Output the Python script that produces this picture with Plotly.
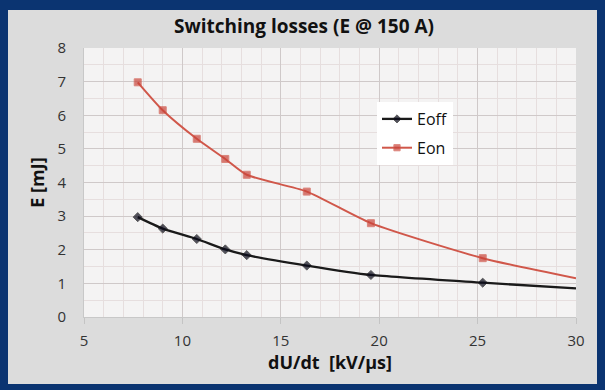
import plotly.graph_objects as go

# Data
x_off = [7.73, 9.0, 10.73, 12.18, 13.27, 16.32, 19.58, 25.26, 30.0]
e_off = [2.97, 2.63, 2.32, 2.01, 1.84, 1.53, 1.25, 1.02, 0.85]
x_on = [7.73, 9.0, 10.73, 12.18, 13.27, 16.32, 19.58, 25.26, 30.0]
e_on = [6.98, 6.15, 5.3, 4.7, 4.23, 3.73, 2.79, 1.75, 1.15]
marker_shown = [True, True, True, True, True, True, True, True, False]

title = "<b>Switching losses (E @ 150 A)</b>"
x_title = "<b>dU/dt  [kV/µs]</b>"
y_title = "<b>E [mJ]</b>"

FONT = "Open Sans"

def msize(flags, s):
    return [s if f else 0 for f in flags]

fig = go.Figure()
fig.add_trace(go.Scatter(
    x=x_off, y=e_off, name="Eoff", mode="lines+markers", legendgroup="a",
    line=dict(color="#1a1a1a", width=2.3, shape="spline", smoothing=0.6),
    marker=dict(symbol="diamond", size=msize(marker_shown, 7), color="#0a0a1a"),
))
fig.add_trace(go.Scatter(
    x=x_on, y=e_on, name="Eon", mode="lines+markers", legendgroup="b",
    line=dict(color="#d0574a", width=2, shape="spline", smoothing=0.6),
    marker=dict(symbol="square", size=msize(marker_shown, 7), color="#c9443a"),
))

W, H = 605, 390
L, R, T, B = 84, 29, 48, 73
pw, ph = W - L - R, H - T - B

def px_x(p):
    return (p - L) / pw

def px_y(p):
    return (H - B - p) / ph

shapes = [
    dict(type="rect", xref="paper", yref="paper", layer="below",
         x0=px_x(8), x1=px_x(597), y0=px_y(384), y1=px_y(10),
         fillcolor="#dcdcdc", line=dict(width=0)),
    dict(type="rect", xref="paper", yref="paper", layer="below",
         x0=0, x1=1, y0=0, y1=1,
         fillcolor="#f4f3f3", line=dict(width=0)),
]

fig.update_layout(
    width=W, height=H,
    margin=dict(l=L, r=R, t=T, b=B),
    paper_bgcolor="#0b3471",
    plot_bgcolor="#f4f3f3",
    shapes=shapes,
    font=dict(family=FONT, color="#222222", size=15),
    title=dict(text=title, x=304 / W, xref="container", xanchor="center",
               y=1 - 26 / H, yref="container", yanchor="middle",
               font=dict(size=19, color="#111111", family=FONT)),
    showlegend=True,
    legend=dict(x=px_x(377), y=px_y(102), xanchor="left", yanchor="top",
                bgcolor="#ffffff", font=dict(size=16, color="#111111"),
                itemwidth=30, tracegroupgap=5),
    xaxis=dict(range=[5, 30], dtick=5, tick0=5, showgrid=True,
               gridcolor="#cfc9c9", gridwidth=1,
               minor=dict(dtick=1, showgrid=True, gridcolor="#e6dede", gridwidth=1),
               zeroline=False, showline=True, linecolor="#c8c8c8",
               ticks="outside", ticklen=6, tickcolor="#c4c4c4",
               ticklabelstandoff=4,
               tickfont=dict(size=15, color="#333333"),
               title=dict(text=x_title, font=dict(size=18, color="#111111"), standoff=4)),
    yaxis=dict(range=[0, 8], dtick=1, showgrid=True,
               gridcolor="#cfc9c9", gridwidth=1,
               minor=dict(dtick=0.5, showgrid=True, gridcolor="#e6dede", gridwidth=1),
               zeroline=False, showline=True, linecolor="#c8c8c8",
               ticks="", ticklabelstandoff=14,
               tickfont=dict(size=15, color="#333333"),
               title=dict(text=y_title, font=dict(size=18, color="#111111"), standoff=8)),
)

fig.write_html(
    "out.html",
    config={"displayModeBar": False},
    post_script="document.body.style.margin='0';document.body.style.background='#0b3471';",
)
